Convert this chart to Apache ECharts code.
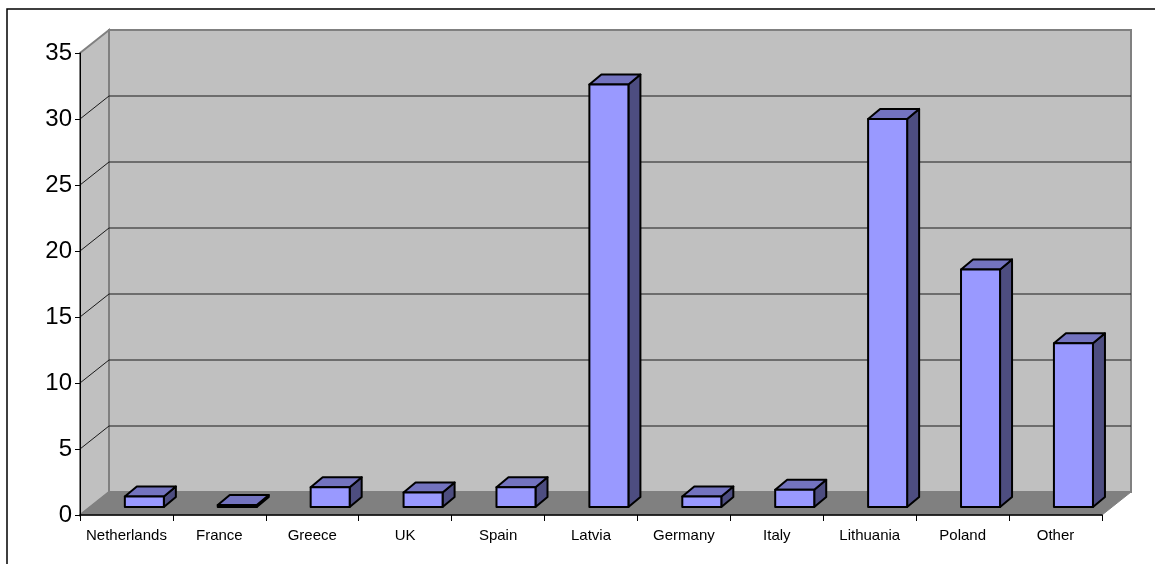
<!DOCTYPE html>
<html>
<head>
<meta charset="utf-8">
<script src="https://cdn.jsdelivr.net/npm/echarts@6/dist/echarts.min.js"></script>
<style>
  html, body { margin: 0; padding: 0; background: #fff; }
  #chart { width: 1155px; height: 564px; }
</style>
</head>
<body>
<div id="chart"></div>
<script>
// Country categories and their values
var categories = ['Netherlands', 'France', 'Greece', 'UK', 'Spain', 'Latvia', 'Germany', 'Italy', 'Lithuania', 'Poland', 'Other'];
var values = [0.8, 0.15, 1.5, 1.1, 1.5, 32.0, 0.8, 1.3, 29.4, 18.0, 12.4];
// Value axis ticks
var yTicks = [0, 5, 10, 15, 20, 25, 30, 35];

// Oblique depth of the box (walls/floor) and of each column
var WALL_DX = 29, WALL_DY = -23;
var BAR_FRONT_DX = 10, BAR_FRONT_DY = -8;
var BAR_DEPTH_DX = 12, BAR_DEPTH_DY = -10;

var chart = echarts.init(document.getElementById('chart'), null, { renderer: 'canvas' });

function renderWalls(params, api) {
  var cs = params.coordSys;
  var x0 = cs.x, x1 = cs.x + cs.width;
  var yTop = cs.y, yBase = cs.y + cs.height;
  var children = [];
  // back wall
  children.push({
    type: 'polygon',
    shape: { points: [[x0 + WALL_DX, yTop + WALL_DY], [x1 + WALL_DX, yTop + WALL_DY], [x1 + WALL_DX, yBase + WALL_DY], [x0 + WALL_DX, yBase + WALL_DY]] },
    style: { fill: '#c0c0c0', stroke: '#808080', lineWidth: 2 }
  });
  // left side wall
  children.push({
    type: 'polygon',
    shape: { points: [[x0, yTop], [x0 + WALL_DX, yTop + WALL_DY], [x0 + WALL_DX, yBase + WALL_DY], [x0, yBase]] },
    style: { fill: '#c0c0c0', stroke: '#808080', lineWidth: 2 }
  });
  // gridlines on both walls
  yTicks.forEach(function (t) {
    if (t === 0 || t === yTicks[yTicks.length - 1]) return;
    var y = api.coord([0, t])[1];
    children.push({
      type: 'line',
      shape: { x1: x0 + WALL_DX, y1: y + WALL_DY, x2: x1 + WALL_DX, y2: y + WALL_DY },
      style: { stroke: '#1a1a1a', lineWidth: 1 }
    });
    children.push({
      type: 'line',
      shape: { x1: x0, y1: y, x2: x0 + WALL_DX, y2: y + WALL_DY },
      style: { stroke: '#1a1a1a', lineWidth: 1 }
    });
  });
  // floor
  children.push({
    type: 'polygon',
    shape: { points: [[x0, yBase], [x0 + WALL_DX, yBase + WALL_DY], [x1 + WALL_DX, yBase + WALL_DY], [x1, yBase]] },
    style: { fill: '#808080', stroke: '#808080', lineWidth: 1 }
  });
  return { type: 'group', children: children };
}

function renderBar(params, api) {
  var idx = api.value(0);
  var val = api.value(1);
  var bw = api.size([1, 0])[0];
  var base = api.coord([idx, 0]);
  var top = api.coord([idx, val]);
  var left = base[0] - 0.125 * bw + BAR_FRONT_DX;
  var right = left + 0.42 * bw;
  var yb = base[1] + BAR_FRONT_DY;
  var yt = top[1] + BAR_FRONT_DY;
  var edge = { stroke: '#000', lineWidth: 2, lineJoin: 'round' };
  return {
    type: 'group',
    children: [
      {
        type: 'polygon',
        shape: { points: [[right, yt], [right + BAR_DEPTH_DX, yt + BAR_DEPTH_DY], [right + BAR_DEPTH_DX, yb + BAR_DEPTH_DY], [right, yb]] },
        style: Object.assign({ fill: '#4d4d80' }, edge)
      },
      {
        type: 'polygon',
        shape: { points: [[left, yt], [left + BAR_DEPTH_DX, yt + BAR_DEPTH_DY], [right + BAR_DEPTH_DX, yt + BAR_DEPTH_DY], [right, yt]] },
        style: Object.assign({ fill: '#7373bf' }, edge)
      },
      {
        type: 'rect',
        shape: { x: left, y: yt, width: right - left, height: yb - yt },
        style: Object.assign({ fill: '#9999ff' }, edge)
      }
    ]
  };
}

var option = {
  animation: false,
  backgroundColor: '#fff',
  textStyle: { fontFamily: 'Liberation Sans, Arial, sans-serif' },
  graphic: [{
    type: 'rect',
    shape: { x: 7, y: 9, width: 1170, height: 580 },
    style: { fill: 'none', stroke: '#000', lineWidth: 1.5 },
    silent: true
  }],
  grid: { left: 80, right: 53, top: 53, bottom: 49, containLabel: false },
  xAxis: {
    type: 'category',
    data: categories,
    z: 10,
    axisLine: { show: true, lineStyle: { color: '#000', width: 1.5 } },
    axisTick: { show: true, length: 6, lineStyle: { color: '#000' } },
    axisLabel: { color: '#000', fontSize: 15, margin: 13, interval: 0, fontFamily: 'Liberation Sans, Arial, sans-serif' },
    splitLine: { show: false }
  },
  yAxis: {
    type: 'value',
    min: 0,
    max: 35,
    interval: 5,
    z: 10,
    axisLine: { show: true, lineStyle: { color: '#000', width: 1 } },
    axisTick: { show: true, length: 5, lineStyle: { color: '#000' } },
    axisLabel: { color: '#000', fontSize: 24, margin: 8, fontFamily: 'Liberation Sans, Arial, sans-serif' },
    splitLine: { show: false }
  },
  series: [
    {
      type: 'custom',
      name: 'walls',
      renderItem: renderWalls,
      data: [[0, 0]],
      silent: true,
      z: 1
    },
    {
      type: 'custom',
      name: 'values',
      renderItem: renderBar,
      encode: { x: 0, y: 1 },
      data: values.map(function (v, i) { return [i, v]; }),
      z: 3
    }
  ]
};

chart.setOption(option);
</script>
</body>
</html>
